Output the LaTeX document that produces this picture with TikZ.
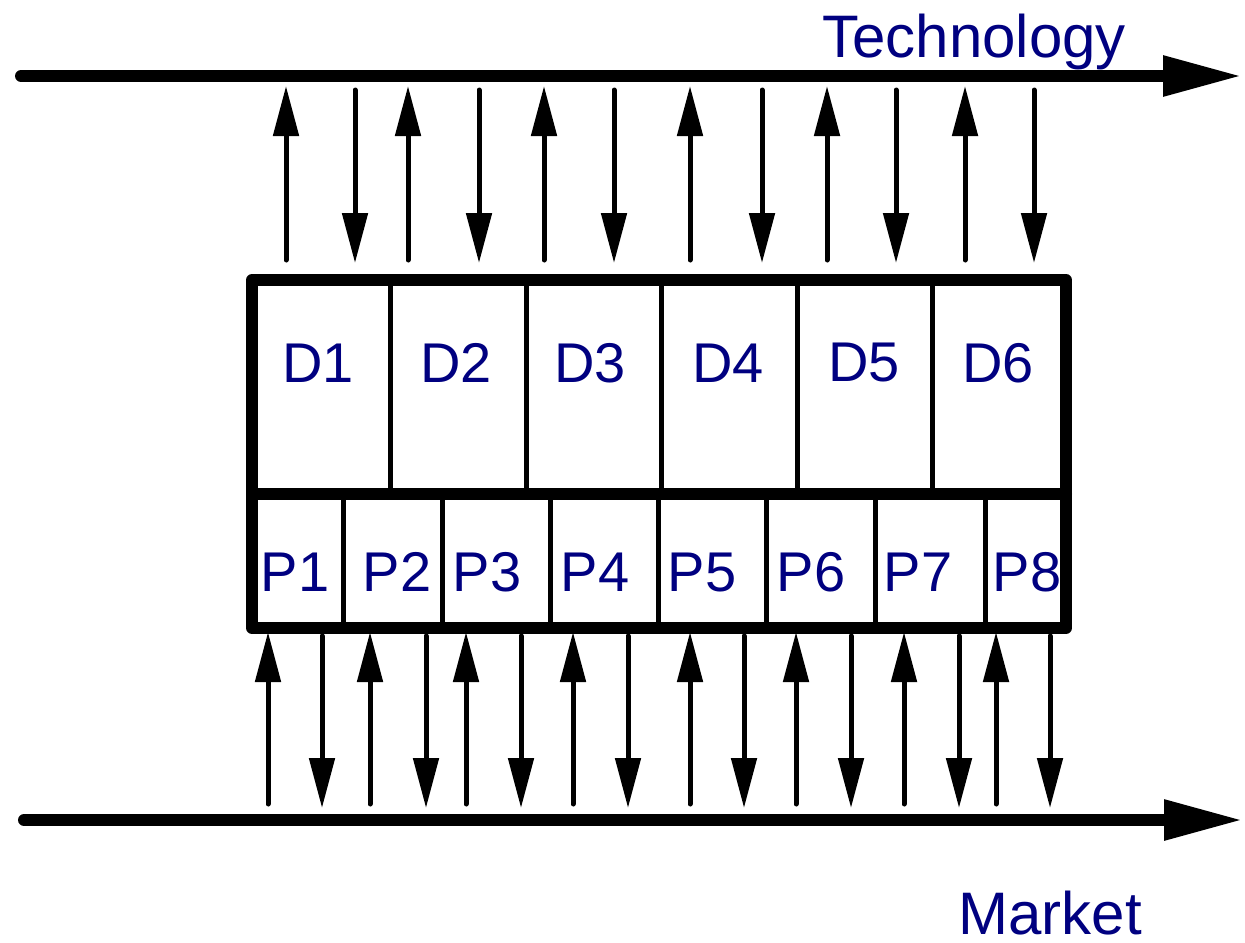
\documentclass[tikz,border=0pt]{standalone}
\usepackage{fontspec}
\setmainfont{Liberation Sans}
\usetikzlibrary{arrows.meta}
\definecolor{navy}{RGB}{0,0,128}
\begin{document}
\begin{tikzpicture}[x=0.5pt,y=-0.5pt,
 lbl/.style={text=navy,font=\fontsize{28}{32}\selectfont,inner sep=0pt},
 biglbl/.style={text=navy,font=\fontsize{30}{34}\selectfont,inner sep=0pt},
 mainline/.style={line width=6pt,line cap=round,-{Triangle[length=39.5pt,width=19pt]}},
 frame/.style={line width=6pt,line cap=round,line join=round},
 divider/.style={line width=2.5pt,line cap=round},
 flow/.style={line width=2.5pt,line cap=round,-{Triangle[length=25pt,width=12.5pt]}}]
\useasboundingbox (0,0) rectangle (1245,942);
% main lines
\coordinate (t0) at (21,76); \coordinate (t1) at (1242,76);
\coordinate (m0) at (24,820); \coordinate (m1) at (1243,820);
\draw[mainline] (t0) -- (t1);
\draw[mainline] (m0) -- (m1);
\node[biglbl,anchor=base west] (tech) at (822,57) {Technology};
\node[biglbl,anchor=base west] (market) at (958,934) {Market};
% frame
\coordinate (b1) at (252,280); \coordinate (b2) at (1066,280);
\coordinate (b3) at (1066,628); \coordinate (b4) at (252,628);
\coordinate (c1) at (252,494); \coordinate (c2) at (1066,494);
\draw[frame] (b1) -- (b2) -- (b3) -- (b4) -- cycle;
\draw[frame] (c1) -- (c2);
% D dividers
\foreach \x in {390,526,661,797,932}{
  \draw[divider] (\x,280) -- (\x,494);
}
% P dividers
\foreach \x in {343,442,550,658,766,875,985}{
  \draw[divider] (\x,494) -- (\x,628);
}
% labels
\foreach \x/\t in {318/D1,456/D2,590/D3,728/D4,864/D5,998/D6}{
  \node[lbl] (\t) at (\x,363) {\t};
}
\foreach \x/\t in {295/P1,397/P2,487/P3,595/P4,702/P5,811/P6,918/P7,1027/P8}{
  \node[lbl] (\t) at (\x,572) {\t};
}
% top arrows
\foreach \x in {286,408,544,690,827,965}{
  \draw[flow] (\x,260) -- (\x,86);
}
\foreach \x in {355,479,614,762,896,1034}{
  \draw[flow] (\x,90) -- (\x,263);
}
% bottom arrows
\foreach \x in {268,370,466,573,690,796,904,996}{
  \draw[flow] (\x,804) -- (\x,632);
}
\foreach \x in {322,426,521,628,744,851,959,1050}{
  \draw[flow] (\x,636) -- (\x,808);
}
\end{tikzpicture}
\end{document}
